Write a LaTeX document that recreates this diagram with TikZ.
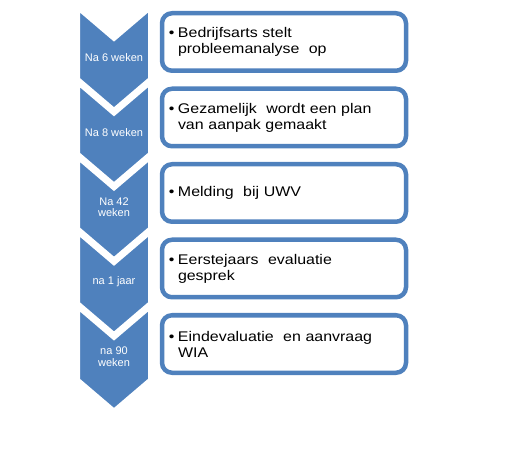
\documentclass[tikz,border=0pt]{standalone}
\usepackage{fontspec}
\setmainfont{Liberation Sans}
\newfontfamily\boxfont[FakeStretch=1.14]{Liberation Sans}
\definecolor{ofblue}{RGB}{79,129,189}
\newcommand\wsp{\ \ }
\newcommand\bul{\noindent\llap{\textbullet\hspace{3.5pt}}}
\begin{document}
\begin{tikzpicture}[x=1pt,y=-1pt,
  chev/.style={fill=ofblue, draw=white, line width=7pt, line join=miter},
  chevlabel/.style={text=white, font=\fontsize{11}{11.5}\selectfont, align=center, inner sep=0pt},
  box/.style={draw=ofblue, fill=white, line width=4.5pt, rounded corners=10pt,
    minimum width=244pt, minimum height=57.5pt, inner xsep=16pt, inner ysep=0pt,
    text width=212pt, align=left, font=\boxfont\fontsize{14}{16}\selectfont}]
\useasboundingbox (0,0) rectangle (530,462);
% chevrons
\foreach \i in {0,...,4}{
  \pgfmathsetmacro{\Y}{5+74.75*\i}
  \draw[chev] (76.5,\Y) -- (114,\Y+32) -- (151.5,\Y) -- (151.5,\Y+76.5)
    -- (114,\Y+108.5) -- (76.5,\Y+76.5) -- cycle;
}
\node[chevlabel] (l1) at (114, 57.5) {Na 6 weken};
\node[chevlabel] (l2) at (114, 132.25) {Na 8 weken};
\node[chevlabel] (l3) at (114, 207) {Na 42\\weken};
\node[chevlabel] (l4) at (114, 281.75) {na 1 jaar};
\node[chevlabel] (l5) at (114, 356.5) {na 90\\weken};
% boxes
\node[box] (b1) at (284, 42) {\bul Bedrijfsarts stelt\\probleemanalyse\wsp op};
\node[box] (b2) at (284, 117.5) {\bul Gezamelijk\wsp wordt een plan\\van aanpak gemaakt};
\node[box] (b3) at (284, 193) {\bul Melding\wsp bij UWV};
\node[box] (b4) at (284, 268.5) {\bul Eerstejaars\wsp evaluatie\\gesprek};
\node[box] (b5) at (284, 344) {\bul Eindevaluatie\wsp en aanvraag\\WIA};
\end{tikzpicture}
\end{document}
